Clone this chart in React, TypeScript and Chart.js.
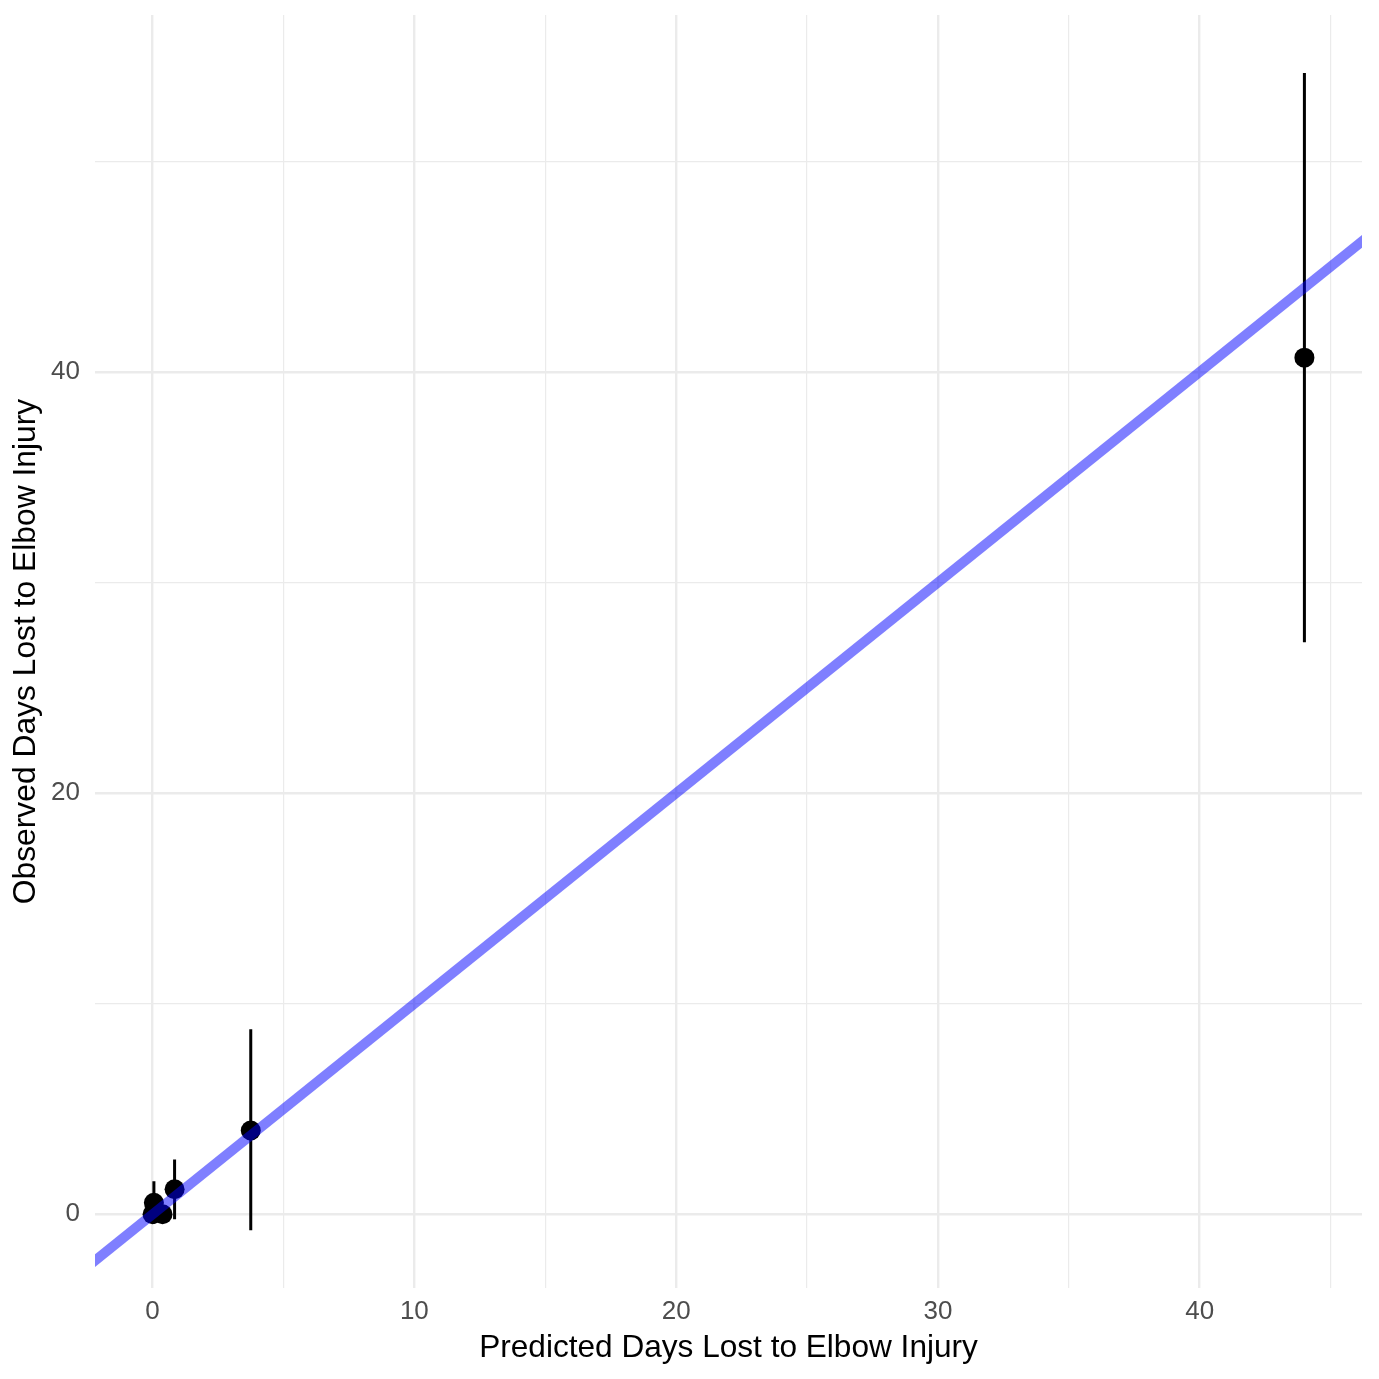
import React, { useEffect, useRef } from "react";
import { Chart, registerables } from "chart.js";

Chart.register(...registerables);

const predicted = [0.0, 0.05, 0.38, 0.84, 3.75, 44.0];
const observed = [0.0, 0.55, 0.0, 1.19, 3.98, 40.68];
const lower = [0.0, -0.45, 0.0, -0.24, -0.76, 27.17];
const upper = [0.0, 1.57, 0.0, 2.6, 8.79, 54.19];

const xLabelTicks = [0, 10, 20, 30, 40];
const yLabelTicks = [0, 20, 40];
const refLine = [-5, 60];

const xTitle = "Predicted Days Lost to Elbow Injury";
const yTitle = "Observed Days Lost to Elbow Injury";

const FONT = "'Liberation Sans', Arial, Helvetica, sans-serif";

export default function App() {
  const ref = useRef<HTMLCanvasElement | null>(null);

  useEffect(() => {
    const canvas = ref.current;
    if (!canvas) return;

    const errData: any[] = [];
    predicted.forEach((x, i) => {
      errData.push({ x, y: lower[i] });
      errData.push({ x, y: upper[i] });
      errData.push({ x, y: null });
    });

    const gridColor = "#EBEBEB";

    const chart = new Chart(canvas, {
      type: "scatter",
      data: {
        datasets: [
          {
            type: "line",
            data: refLine.map((v) => ({ x: v, y: v })),
            borderColor: "rgba(0,0,255,0.5)",
            borderWidth: 10,
            pointRadius: 0,
            borderCapStyle: "butt",
            clip: 0,
            order: 1,
          } as any,
          {
            type: "scatter",
            data: predicted.map((x, i) => ({ x, y: observed[i] })),
            backgroundColor: "#000000",
            borderWidth: 0,
            pointRadius: 10,
            order: 2,
          } as any,
          {
            type: "line",
            data: errData,
            borderColor: "#000000",
            borderWidth: 3,
            pointRadius: 0,
            spanGaps: false,
            borderCapStyle: "butt",
            order: 3,
          } as any,
        ],
      },
      options: {
        animation: false,
        responsive: false,
        layout: { padding: { top: 15, right: 17, left: 0, bottom: 0 } },
        plugins: {
          legend: { display: false },
          tooltip: { enabled: false },
        },
        scales: {
          x: {
            type: "linear",
            min: -2.2,
            max: 46.2,
            border: { display: false },
            grid: {
              drawTicks: false,
              color: gridColor,
              lineWidth: (ctx: any) =>
                ctx.tick && xLabelTicks.includes(ctx.tick.value) ? 2.4 : 1.2,
            },
            ticks: {
              stepSize: 5,
              includeBounds: false,
              autoSkip: false,
              maxRotation: 0,
              padding: 8,
              color: "#4D4D4D",
              font: { family: FONT, size: 26 },
              callback: (v: any) =>
                xLabelTicks.includes(Number(v)) ? String(v) : "",
            },
            title: {
              display: true,
              text: xTitle,
              color: "#000000",
              font: { family: FONT, size: 31.6 },
              padding: { top: 0, bottom: 12 },
            },
            afterFit: (scale: any) => {
              scale.height = 91;
              scale.paddingLeft = 0;
              scale.paddingRight = 0;
            },
          },
          y: {
            type: "linear",
            min: -3.5,
            max: 56.95,
            border: { display: false },
            grid: {
              drawTicks: false,
              color: gridColor,
              lineWidth: (ctx: any) =>
                ctx.tick && yLabelTicks.includes(ctx.tick.value) ? 2.4 : 1.2,
            },
            ticks: {
              stepSize: 10,
              includeBounds: false,
              autoSkip: false,
              padding: 15,
              color: "#4D4D4D",
              font: { family: FONT, size: 26 },
              callback: (v: any) =>
                yLabelTicks.includes(Number(v)) ? String(v) : "",
            },
            title: {
              display: true,
              text: yTitle,
              color: "#000000",
              font: { family: FONT, size: 31.8 },
              padding: { top: 7, bottom: 0 },
            },
            afterFit: (scale: any) => {
              scale.width = 95;
              scale.paddingTop = 0;
              scale.paddingBottom = 0;
            },
          },
        },
      } as any,
    });

    return () => chart.destroy();
  }, []);

  return (
    <div
      style={{
        position: "absolute",
        left: 0,
        top: 0,
        width: 1379,
        height: 1379,
        background: "#ffffff",
      }}
    >
      <canvas ref={ref} width={1379} height={1379} style={{ display: "block" }} />
    </div>
  );
}
